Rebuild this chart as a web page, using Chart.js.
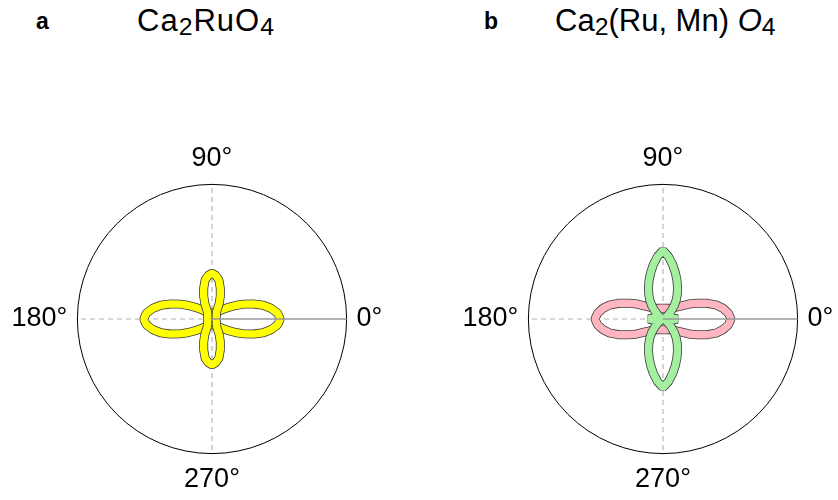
<!DOCTYPE html>
<html>
<head>
<meta charset="utf-8">
<script src="https://cdn.jsdelivr.net/npm/chart.js@4.4.1/dist/chart.umd.min.js"></script>
<style>
  html, body { margin: 0; padding: 0; background: #fff; width: 838px; height: 500px; overflow: hidden; position: relative; font-family: 'Liberation Sans', Arial, sans-serif; color: #000; }
  .cv { position: absolute; }
  .tag { position: absolute; font-weight: bold; font-size: 23px; line-height: 1; }
  .ttl { position: absolute; font-size: 31px; line-height: 1; white-space: nowrap; }
  .ttl sub { font-size: 80%; vertical-align: -0.15em; line-height: 0; }
  #ttlA { letter-spacing: 1px; }
</style>
</head>
<body>
<div class="tag" style="left:36px; top:10px;">a</div>
<div class="ttl" id="ttlA" style="left:137px; top:5px;">Ca<sub>2</sub>RuO<sub>4</sub></div>
<div class="tag" style="left:484px; top:10px;">b</div>
<div class="ttl" style="left:555px; top:5px;">Ca<sub>2</sub>(Ru, Mn) <i>O</i><sub>4</sub></div>

<canvas id="polarA" class="cv" width="500" height="355" style="left:-38px; top:142px;"></canvas>
<canvas id="polarB" class="cv" width="500" height="355" style="left:413px; top:142px;"></canvas>

<script>
// polar angle (deg, counter-clockwise from 0 = right)
const theta = [0, 5, 10, 15, 20, 25, 30, 35, 40, 45, 50, 55, 60, 65, 70, 75, 80, 85, 90,
  95, 100, 105, 110, 115, 120, 125, 130, 135, 140, 145, 150, 155, 160, 165, 170, 175, 180,
  185, 190, 195, 200, 205, 210, 215, 220, 225, 230, 235, 240, 245, 250, 255, 260, 265, 270,
  275, 280, 285, 290, 295, 300, 305, 310, 315, 320, 325, 330, 335, 340, 345, 350, 355];

const RMAX = 1.35;

// panel a, Ca2RuO4: horizontal lobes
const caRu_h = [0.684, 0.661, 0.605, 0.533, 0.442, 0.353, 0.271, 0.204, 0.157, 0.121, 0.101, 0.089, 0.080, 0.073, 0.067, 0.062, 0.059, 0.056, 0.055,
  0.056, 0.059, 0.062, 0.067, 0.073, 0.080, 0.089, 0.101, 0.121, 0.157, 0.204, 0.271, 0.353, 0.442, 0.533, 0.605, 0.661, 0.684,
  0.661, 0.605, 0.533, 0.442, 0.353, 0.271, 0.204, 0.157, 0.121, 0.101, 0.089, 0.080, 0.073, 0.067, 0.062, 0.059, 0.056, 0.055,
  0.056, 0.059, 0.062, 0.067, 0.073, 0.080, 0.089, 0.101, 0.121, 0.157, 0.204, 0.271, 0.353, 0.442, 0.533, 0.605, 0.661];
// panel a: vertical lobes
const caRu_v = [0.042, 0.042, 0.043, 0.044, 0.045, 0.047, 0.050, 0.053, 0.058, 0.060, 0.068, 0.080, 0.100, 0.170, 0.244, 0.321, 0.397, 0.439, 0.459,
  0.439, 0.397, 0.321, 0.244, 0.170, 0.100, 0.080, 0.068, 0.060, 0.058, 0.053, 0.050, 0.047, 0.045, 0.044, 0.043, 0.042, 0.042,
  0.042, 0.043, 0.044, 0.045, 0.047, 0.050, 0.053, 0.058, 0.060, 0.068, 0.080, 0.100, 0.170, 0.244, 0.321, 0.397, 0.439, 0.459,
  0.439, 0.397, 0.321, 0.244, 0.170, 0.100, 0.080, 0.068, 0.060, 0.058, 0.053, 0.050, 0.047, 0.045, 0.044, 0.043, 0.042];

// panel b, Ca2(Ru, Mn)O4: horizontal lobes (pink)
const mn_h = [0.682, 0.659, 0.612, 0.549, 0.463, 0.375, 0.300, 0.229, 0.188, 0.160, 0.142, 0.131, 0.122, 0.118, 0.114, 0.112, 0.110, 0.109, 0.108,
  0.109, 0.110, 0.112, 0.114, 0.118, 0.122, 0.131, 0.142, 0.160, 0.188, 0.229, 0.300, 0.375, 0.463, 0.549, 0.612, 0.659, 0.682,
  0.659, 0.612, 0.549, 0.463, 0.375, 0.300, 0.229, 0.188, 0.160, 0.142, 0.131, 0.122, 0.118, 0.114, 0.112, 0.110, 0.109, 0.108,
  0.109, 0.110, 0.112, 0.114, 0.118, 0.122, 0.131, 0.142, 0.160, 0.188, 0.229, 0.300, 0.375, 0.463, 0.549, 0.612, 0.659];
// panel b: vertical lobes (green)
const mn_v = [0.145, 0.105, 0.065, 0.035, 0.026, 0.026, 0.034, 0.050, 0.078, 0.120, 0.175, 0.230, 0.285, 0.345, 0.410, 0.480, 0.555, 0.630, 0.687,
  0.630, 0.555, 0.480, 0.410, 0.345, 0.285, 0.230, 0.175, 0.120, 0.078, 0.050, 0.034, 0.026, 0.026, 0.035, 0.065, 0.105, 0.145,
  0.105, 0.065, 0.035, 0.026, 0.026, 0.034, 0.050, 0.078, 0.120, 0.175, 0.230, 0.285, 0.345, 0.410, 0.480, 0.555, 0.630, 0.687,
  0.630, 0.555, 0.480, 0.410, 0.345, 0.285, 0.230, 0.175, 0.120, 0.078, 0.050, 0.034, 0.026, 0.026, 0.035, 0.065, 0.105];

const YELLOW = '#ffff00';
const PINK = '#ffb6c1';
const GREEN = '#a5f0a0';
const EDGE = '#3a3a3a';
const GRIDC = '#b0b0b0';
const AXIS0 = '#999999';

// radar index 0 sits at the top and runs clockwise: index i -> angle 90 - 5i
const n = theta.length;
const toRadar = arr => arr.map((_, i) => arr[(18 - i + n) % n]);

// each curve is a thick coloured line over a slightly wider dark one
function curve(values, color, width) {
  return {
    data: toRadar(values),
    fill: false,
    borderColor: color,
    borderWidth: width,
    borderJoinStyle: 'bevel',
    pointRadius: 0,
    pointHitRadius: 0
  };
}

// the 0 deg radial line sits on top of the curves
const axisOnTop = {
  id: 'axisOnTop',
  afterDatasetsDraw(chart) {
    const r = chart.scales.r;
    const i = chart.data.labels.indexOf(0);
    const p = r.getPointPositionForValue(i, r.max);
    const ctx = chart.ctx;
    ctx.save();
    ctx.strokeStyle = AXIS0;
    ctx.lineWidth = 1.4;
    ctx.beginPath();
    ctx.moveTo(r.xCenter, r.yCenter);
    ctx.lineTo(p.x, p.y);
    ctx.stroke();
    ctx.restore();
  }
};

function polar(id, datasets) {
  return new Chart(document.getElementById(id), {
    type: 'radar',
    data: { labels: toRadar(theta), datasets },
    plugins: [axisOnTop],
    options: {
      responsive: false,
      animation: false,
      events: [],
      plugins: { legend: { display: false }, tooltip: { enabled: false } },
      scales: {
        r: {
          min: 0,
          max: RMAX,
          startAngle: 0,
          ticks: { display: false, stepSize: RMAX },
          grid: { circular: true, color: '#000', lineWidth: 1 },
          angleLines: {
            color: c => (c.label === '' || c.label === '0°') ? 'transparent' : GRIDC,
            lineWidth: c => (c.label === '' || c.label === '0°') ? 0 : 1.1,
            borderDash: [5, 4]
          },
          pointLabels: {
            callback: v => (v % 90 === 0 ? v + '°' : ''),
            font: { family: 'Liberation Sans', size: 27 },
            color: '#000',
            padding: 10
          }
        }
      }
    }
  });
}

// later datasets are drawn first: dark edge, then colour; vertical lobes on top
polar('polarA', [
  curve(caRu_v, YELLOW, 7.4),
  curve(caRu_v, EDGE, 9.0),
  curve(caRu_h, YELLOW, 7.4),
  curve(caRu_h, EDGE, 9.0)
]);

polar('polarB', [
  curve(mn_v, GREEN, 7.4),
  curve(mn_v, EDGE, 9.0),
  curve(mn_h, PINK, 7.4),
  curve(mn_h, EDGE, 9.0)
]);
</script>
</body>
</html>
